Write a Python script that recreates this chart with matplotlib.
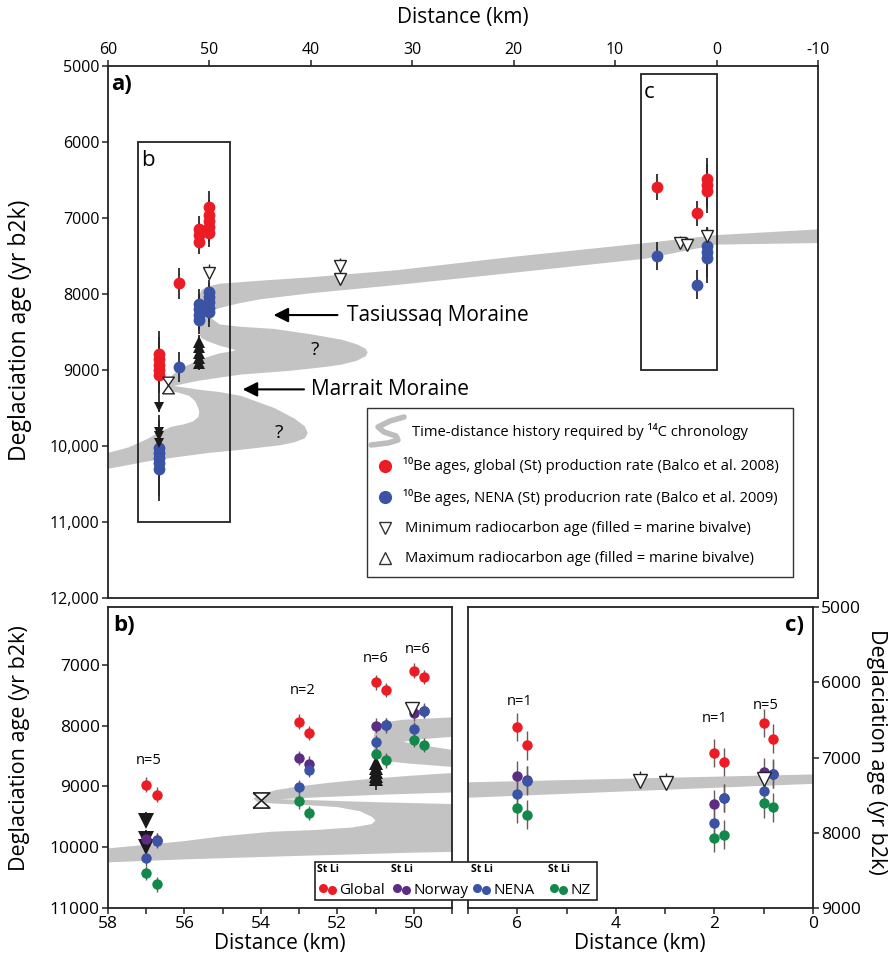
import matplotlib
matplotlib.use('Agg')
import matplotlib.pyplot as plt
from matplotlib.patches import Rectangle

plt.rcParams['font.family'] = ['Open Sans', 'DejaVu Sans']

RED = '#ec1c24'
BLUE = '#3a53a4'
PURPLE = '#5c2d83'
GREEN = '#12894a'
GREY = '#c3c3c3'
INK = '#222222'

# ---------------- time-distance band (14C chronology), outline in (km, yr b2k)
band_outer_dist = [-12, -10, 0, 7, 20, 31.4, 40, 45, 49, 50.3, 50.8, 51.0, 51.05, 51.05, 51.0,
                   50.8, 50.2, 49.0, 48.0, 47.4, 48.0, 49.0, 50.2, 51.2, 52.2, 53.0, 53.6, 54.0,
                   54.2, 54.1, 53.7, 53.0, 52.0, 51.4, 51.1, 51.0, 51.1, 51.6, 52.5, 53.7, 55.0,
                   56.0, 58.0, 60.0, 62.0]
band_outer_age = [7130, 7150, 7225, 7330, 7510, 7685, 7780, 7825, 7865, 7905, 7950, 8020, 8200, 8400, 8520,
                  8580, 8620, 8680, 8715, 8740, 8760, 8780, 8830, 8880, 8940, 9000, 9060, 9130,
                  9200, 9250, 9280, 9300, 9340, 9410, 9500, 9560, 9620, 9675, 9715, 9745, 9820,
                  9900, 10020, 10090, 10150]
band_inner_dist = [-12, -10, 0, 7, 20, 31.4, 40, 45, 47, 49, 49.8, 50.28, 49.8, 49.0, 47.0, 43.6,
                   40.0, 37.0, 35.5, 34.6, 34.4, 34.6, 35.5, 37.0, 38.6, 42.0, 46.9, 49.0, 51.0,
                   52.5, 53.5, 52.5, 51.0, 49.0, 46.9, 43.6, 41.6, 40.6, 40.3, 40.6, 41.6, 43.0,
                   46.9, 50.0, 53.4, 56.0, 58.0, 60.0, 62.0]
band_inner_age = [7320, 7330, 7350, 7535, 7720, 7880, 7990, 8070, 8120, 8185, 8225, 8267, 8320, 8400, 8430, 8460,
                  8530, 8600, 8660, 8720, 8770, 8820, 8880, 8930, 8960, 9010, 9060, 9100, 9140,
                  9180, 9210, 9230, 9260, 9290, 9340, 9500, 9640, 9740, 9830, 9900, 9950, 9990,
                  10050, 10090, 10150, 10200, 10250, 10300, 10340]

# ---------------- panel a data (individual samples)
a_global_dist = [54.94, 54.94, 54.94, 54.94, 54.94, 53.0, 51.03, 51.03, 51.03, 50.0, 50.0, 50.0, 50.0, 50.0,
                 5.89, 1.94, 0.9, 0.9, 0.9]
a_global_age = [8790, 8860, 8930, 9000, 9060, 7860, 7140, 7230, 7320, 6850, 6960, 7040, 7120, 7200,
                6590, 6940, 6490, 6570, 6650]
a_global_err = [300, 300, 300, 300, 300, 200, 160, 160, 160, 200, 200, 200, 200, 180,
                170, 170, 280, 280, 280]
a_nena_dist = [54.94, 54.94, 54.94, 54.94, 54.94, 53.0, 51.03, 51.03, 51.03, 51.03, 50.0, 50.0, 50.0, 50.0, 50.0,
               5.89, 1.94, 0.9, 0.9, 0.9]
a_nena_age = [10020, 10090, 10160, 10230, 10300, 8957, 8130, 8200, 8270, 8340, 7970, 8040, 8110, 8180, 8240,
              7500, 7880, 7370, 7450, 7530]
a_nena_err = [430, 430, 430, 430, 430, 200, 200, 200, 200, 190, 150, 190, 190, 190, 190,
              190, 190, 230, 330, 330]
a_min_dist = [50.0, 37.1, 37.1, 3.59, 2.87, 0.9]
a_min_age = [7720, 7630, 7800, 7333, 7356, 7237]
a_min_err = [120, 100, 120, 100, 100, 120]
a_minmax_dist = [54.05]
a_minmax_age = [9198]
a_min_marine_dist = [54.94, 54.94, 54.94, 54.94]
a_min_marine_age = [9490, 9820, 9870, 9960]
a_max_marine_dist = [51.03, 51.03, 51.03, 51.03, 51.03]
a_max_marine_age = [8630, 8700, 8770, 8840, 8910]
a_box_b = [57, 48, 6000, 11000]
a_box_c = [7.5, 0, 5100, 9000]

# ---------------- panel b data (site means, St and Li scaling)
b_site = [57, 53, 51, 50]
b_global_st = [8972, 7937, 7287, 7099]
b_global_li = [9138, 8119, 7413, 7204]
b_norway_st = [9865, 8532, 8003, 7799]
b_norway_li = [9880, 8625, 7995, 7760]
b_nena_st = [10185, 9011, 8278, 8063]
b_nena_li = [9893, 8725, 7992, 7755]
b_nz_st = [10427, 9248, 8460, 8240]
b_nz_li = [10609, 9441, 8570, 8322]
b_n = ['n=5', 'n=2', 'n=6', 'n=6']
b_n_dist = [56.94, 52.9, 51.0, 49.9]
b_n_age = [8570, 7430, 6890, 6750]
b_min_marine_dist = [57, 57, 57]
b_min_marine_age = [9562, 9865, 10003]
b_max_marine_dist = [51, 51, 51, 51, 51]
b_max_marine_age = [8620, 8690, 8760, 8830, 8880]
b_min_dist = [50.05]
b_min_age = [7730]
b_minmax_dist = [53.99]
b_minmax_age = [9232]

# ---------------- panel c data
c_site = [6, 2, 1]
c_global_st = [6596, 6942, 6542]
c_global_li = [6840, 7062, 6751]
c_norway_st = [7240, 7618, 7196]
c_norway_li = [7300, 7540, 7215]
c_nena_st = [7484, 7876, 7440]
c_nena_li = [7307, 7538, 7218]
c_nz_st = [7676, 8071, 7609]
c_nz_li = [7760, 8027, 7662]
c_n = ['n=1', 'n=1', 'n=5']
c_n_dist = [5.95, 2.0, 0.96]
c_n_age = [6262, 6484, 6307]
c_min_dist = [3.52, 2.99, 1.0]
c_min_age = [7316, 7342, 7284]

W, H = 894, 959
fig = plt.figure(figsize=(W / 100, H / 100), dpi=100)


def px_axes(x0, y0, x1, y1):
    return fig.add_axes([x0 / W, 1 - y1 / H, (x1 - x0) / W, (y1 - y0) / H])


def style(ax):
    for s in ax.spines.values():
        s.set_color(INK)
        s.set_linewidth(1.3)
    ax.tick_params(direction='out', length=4, width=1.1, color=INK, pad=2)


def draw_band(ax):
    xs = band_outer_dist + band_inner_dist[::-1]
    ys = band_outer_age + band_inner_age[::-1]
    ax.fill(xs, ys, color=GREY, lw=0, zorder=1)


def hourglass(half_w):
    down = [(-half_w, 1.0), (half_w, 1.0), (0.0, 0.0), (-half_w, 1.0)]
    up = [(-half_w, -1.0), (half_w, -1.0), (0.0, 0.0), (-half_w, -1.0)]
    return down, up


# ================= panel a =================
ax = px_axes(108, 66, 818, 598)
style(ax)
ax.set_xlim(60, -10)
ax.set_ylim(12000, 5000)
ax.xaxis.tick_top()
ax.set_xticks(list(range(60, -11, -10)))
ax.set_xticklabels([str(v) for v in range(60, -11, -10)], fontsize=11.5)
yt = list(range(5000, 12001, 1000))
ax.set_yticks(yt)
ax.set_yticklabels([f'{v:,}' if v >= 10000 else str(v) for v in yt], fontsize=11.5)
draw_band(ax)

for (d, a, e) in [(a_global_dist, a_global_age, a_global_err), (a_nena_dist, a_nena_age, a_nena_err)]:
    ax.vlines(d, [ai - ei for ai, ei in zip(a, e)], [ai + ei for ai, ei in zip(a, e)],
              color='#2a2a2a', lw=1.3, zorder=2)
ax.vlines(a_min_dist, [v - e for v, e in zip(a_min_age, a_min_err)], a_min_age, color='#2a2a2a', lw=1.0, zorder=2)
ax.vlines(a_min_marine_dist, [v - 130 for v in a_min_marine_age], [v + 60 for v in a_min_marine_age],
          color='#2a2a2a', lw=1.3, zorder=2)
ax.vlines(a_max_marine_dist, [v - 90 for v in a_max_marine_age], [v + 90 for v in a_max_marine_age],
          color='#2a2a2a', lw=1.3, zorder=2)
ax.plot(a_global_dist, a_global_age, 'o', color=RED, ms=8.5, mew=0, zorder=3)
ax.plot(a_nena_dist, a_nena_age, 'o', color=BLUE, ms=8.5, mew=0, zorder=3)
ax.plot(a_min_marine_dist, a_min_marine_age, 'v', color='#1a1a1a', ms=7.5, mew=0, zorder=4)
ax.plot(a_max_marine_dist, a_max_marine_age, '^', color='#1a1a1a', ms=8, mew=0, zorder=4)
ax.plot(a_min_dist, a_min_age, 'v', mfc='white', mec=INK, ms=8, mew=1.0, zorder=4)
hg_down, hg_up = hourglass(0.7)
ax.plot(a_minmax_dist, a_minmax_age, marker=hg_down, ls='none', mfc='white', mec=INK, ms=12, mew=1.0, zorder=4)
ax.plot(a_minmax_dist, a_minmax_age, marker=hg_up, ls='none', mfc='white', mec=INK, ms=12, mew=1.0, zorder=4)

for box, lab in [(a_box_b, 'b'), (a_box_c, 'c')]:
    x0, x1, y0, y1 = box
    ax.add_patch(Rectangle((x1, y0), x0 - x1, y1 - y0, fill=False, ec=INK, lw=1.3, zorder=5))
    ax.text(x0 - 0.3, y0 + 110, lab, fontsize=16, ha='left', va='top', zorder=6)

ax.text(0.005, 0.985, 'a)', transform=ax.transAxes, fontsize=16, fontweight='bold', ha='left', va='top')
ax.annotate('', xy=(43.95, 8277), xytext=(37.1, 8277),
            arrowprops=dict(arrowstyle='-|>', color='black', lw=1.5, mutation_scale=22), zorder=6)
ax.text(36.4, 8277, 'Tasiussaq Moraine', fontsize=15, ha='left', va='center')
ax.annotate('', xy=(47.0, 9255), xytext=(40.4, 9255),
            arrowprops=dict(arrowstyle='-|>', color='black', lw=1.5, mutation_scale=22), zorder=6)
ax.text(40.0, 9255, 'Marrait Moraine', fontsize=15, ha='left', va='center')
ax.text(39.6, 8737, '?', fontsize=14, ha='center', va='center')
ax.text(43.2, 9830, '?', fontsize=14, ha='center', va='center')


# ================= panels b and c =================
def draw_sites(ax, sites, li_off, series, err, ms):
    for st, li, col in series:
        xs = list(sites) + [s - li_off for s in sites]
        ys = list(st) + list(li)
        ax.vlines(xs, [y - err for y in ys], [y + err for y in ys], color='#6a5a5a', lw=1.0, zorder=2)
        ax.plot(list(sites), st, 'o', color=col, ms=ms, mew=0, zorder=3)
        ax.plot([s - li_off for s in sites], li, 'o', color=col, ms=ms, mew=0, zorder=3)


axb = px_axes(108, 607, 452, 908)
style(axb)
axb.set_xlim(58, 49)
axb.set_ylim(11000, 6050)
axb.set_xticks(list(range(49, 59)))
axb.set_xticklabels([str(v) if v % 2 == 0 else '' for v in range(49, 59)], fontsize=12.5)
axb.set_yticks(list(range(7000, 11001, 1000)))
axb.set_yticklabels([str(v) for v in range(7000, 11001, 1000)], fontsize=12.5)
draw_band(axb)
axb.vlines(b_min_marine_dist, [v - 140 for v in b_min_marine_age], [v + 110 for v in b_min_marine_age],
           color='#2a2a2a', lw=1.3, zorder=2)
axb.vlines(b_max_marine_dist, [v - 60 for v in b_max_marine_age], [v + 180 for v in b_max_marine_age],
           color='#2a2a2a', lw=1.3, zorder=2)
axb.plot(b_min_marine_dist, b_min_marine_age, 'v', color='#1a1a1a', ms=11, mew=0, zorder=2.5)
axb.plot(b_max_marine_dist, b_max_marine_age, '^', color='#1a1a1a', ms=10, mew=0, zorder=2.5)
draw_sites(axb, b_site, 0.27,
           [(b_global_st, b_global_li, RED), (b_norway_st, b_norway_li, PURPLE),
            (b_nena_st, b_nena_li, BLUE), (b_nz_st, b_nz_li, GREEN)], 120, 7.5)
axb.plot(b_min_dist, b_min_age, 'v', mfc='white', mec=INK, ms=10, mew=1.0, zorder=4)
hb_down, hb_up = hourglass(1.1)
axb.plot(b_minmax_dist, b_minmax_age, marker=hb_down, ls='none', mfc='white', mec=INK, ms=12, mew=1.2, zorder=4)
axb.plot(b_minmax_dist, b_minmax_age, marker=hb_up, ls='none', mfc='white', mec=INK, ms=12, mew=1.2, zorder=4)
for t, x, y in zip(b_n, b_n_dist, b_n_age):
    axb.text(x, y, t, fontsize=10.5, ha='center', va='center')
axb.text(0.015, 0.975, 'b)', transform=axb.transAxes, fontsize=16, fontweight='bold', ha='left', va='top')

axc = px_axes(468, 607, 813, 908)
style(axc)
axc.set_xlim(7, 0)
axc.set_ylim(9000, 5000)
axc.set_xticks(list(range(0, 8)))
axc.set_xticklabels([str(v) if v % 2 == 0 else '' for v in range(0, 8)], fontsize=12.5)
axc.yaxis.tick_right()
axc.set_yticks(list(range(5000, 9001, 1000)))
axc.set_yticklabels([str(v) for v in range(5000, 9001, 1000)], fontsize=12.5)
draw_band(axc)
draw_sites(axc, c_site, 0.19,
           [(c_global_st, c_global_li, RED), (c_norway_st, c_norway_li, PURPLE),
            (c_nena_st, c_nena_li, BLUE), (c_nz_st, c_nz_li, GREEN)], 190, 7.5)
axc.vlines(c_min_dist, [v - 130 for v in c_min_age], c_min_age, color='#2a2a2a', lw=1.0, zorder=2)
axc.plot(c_min_dist, c_min_age, 'v', mfc='white', mec=INK, ms=10, mew=1.0, zorder=4)
for t, x, y in zip(c_n, c_n_dist, c_n_age):
    axc.text(x, y, t, fontsize=10.5, ha='center', va='center')
axc.text(0.975, 0.975, 'c)', transform=axc.transAxes, fontsize=16, fontweight='bold', ha='right', va='top')

# ================= axis labels =================
fig.text(463 / W, 1 - 17 / H, 'Distance (km)', fontsize=15, ha='center', va='center')
fig.text(20 / W, 1 - 330 / H, 'Deglaciation age (yr b2k)', fontsize=16.5, rotation=90, ha='center', va='center')
fig.text(20 / W, 1 - 748 / H, 'Deglaciation age (yr b2k)', fontsize=15.5, rotation=90, ha='center', va='center')
fig.text(876 / W, 1 - 752 / H, 'Deglaciation age (yr b2k)', fontsize=15.5, rotation=270, ha='center', va='center')
fig.text(280 / W, 1 - 943 / H, 'Distance (km)', fontsize=15, ha='center', va='center')
fig.text(640 / W, 1 - 943 / H, 'Distance (km)', fontsize=15, ha='center', va='center')

# ================= legends (overlay in pixel space) =================
ov = fig.add_axes([0, 0, 1, 1], zorder=10)
ov.set_xlim(0, W)
ov.set_ylim(H, 0)
ov.axis('off')

ov.add_patch(Rectangle((367, 408), 426, 169, fc='white', ec='#333333', lw=1.0))
ov.plot([404, 390, 378, 384, 396, 398, 388, 371], [417, 421, 427, 432, 436, 440, 443, 445],
        color='#bdbdbd', lw=4, solid_capstyle='round', solid_joinstyle='round')
leg_fs = 10.6
ov.text(412, 431, 'Time-distance history required by ¹⁴C chronology', fontsize=leg_fs, va='center', ha='left')
ov.plot([385], [466], 'o', color=RED, ms=9.5, mew=0)
ov.text(403, 466, '¹⁰Be ages, global (St) production rate (Balco et al. 2008)', fontsize=leg_fs, va='center')
ov.plot([385], [497], 'o', color=BLUE, ms=9.5, mew=0)
ov.text(403, 497, '¹⁰Be ages, NENA (St) producrion rate (Balco et al. 2009)', fontsize=leg_fs, va='center')
ov.plot([385], [528], 'v', mfc='white', mec='#333333', ms=9, mew=1.0)
ov.text(405, 528, 'Minimum radiocarbon age (filled = marine bivalve)', fontsize=leg_fs, va='center')
ov.plot([385], [558], '^', mfc='white', mec='#333333', ms=9, mew=1.0)
ov.text(405, 558, 'Maximum radiocarbon age (filled = marine bivalve)', fontsize=leg_fs, va='center')

ov.add_patch(Rectangle((315, 862), 282, 38, fc='white', ec=INK, lw=1.2))
for name, col, xs in [('Global', RED, 322.7), ('Norway', PURPLE, 396.7), ('NENA', BLUE, 476.7), ('NZ', GREEN, 554)]:
    ov.text(xs - 6, 870, 'St Li', fontsize=7.5, fontweight='bold', ha='left', va='center')
    ov.plot([xs], [887.5], 'o', color=col, ms=6.5, mew=0)
    ov.plot([xs + 9], [890], 'o', color=col, ms=6.5, mew=0)
    ov.text(xs + 16.5, 890, name, fontsize=11, ha='left', va='center')

fig.savefig('out.png', dpi=100)
